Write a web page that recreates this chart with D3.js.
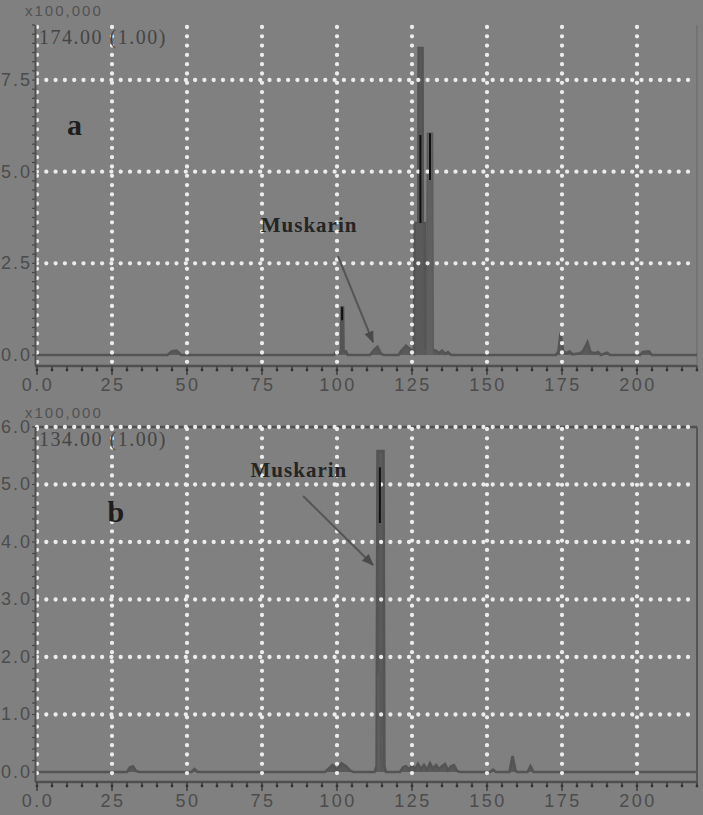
<!DOCTYPE html>
<html><head><meta charset="utf-8">
<script src="https://cdn.jsdelivr.net/npm/d3@7"></script>
<style>body{margin:0;background:#808080}svg{display:block}</style>
</head><body>
<svg id="c" width="703" height="815"></svg>
<script>
// ---- data ----
const xTicks = [0, 25, 50, 75, 100, 125, 150, 175, 200];
const xTickLabels = ["0.0", "25", "50", "75", "100", "125", "150", "175", "200"];
const yTicksA = [0, 2.5, 5, 7.5];
const yTickLabelsA = ["0.0", "2.5", "5.0", "7.5"];
const yTicksB = [0, 1, 2, 3, 4, 5, 6];
const yTickLabelsB = ["0.0", "1.0", "2.0", "3.0", "4.0", "5.0", "6.0"];
const scaleLabel = "x100,000";
const ionLabelA = "174.00 (1.00)";
const ionLabelB = "134.00 (1.00)";

// panel a : [retention time, intensity x100,000]
const traceA = [[0,0],[43.5,0],[45,0.1],[46.5,0.12],[48,0],
 [99,0],[99.8,0.1],[100.6,0.05],[101.3,0.1],[101.5,1.3],[102.0,1.3],[102.2,0.1],[103,0.1],[103.6,0],
 [111,0],[112.5,0.15],[113.5,0.22],[114.5,0.05],[115.5,0],
 [120.5,0],[121.5,0.12],[123,0.25],[124.5,0.15],[125.6,0.05],
 [125.9,3.6],[127.1,3.6],[127.2,8.37],[128.5,8.37],[128.6,3.6],[129.3,3.6],[129.4,0.2],[133,0.12],[134,0.05],[135,0.12],[136,0.03],[137,0.08],[138,0],
 [173,0],[173.8,0.1],[174.5,0.6],[175.4,0.1],[176.5,0.05],[177.5,0.1],[178.5,0.02],[181,0.05],[182,0.1],[183.5,0.35],[184.5,0.08],[186,0.05],[187,0.08],[188,0],[190,0.06],[191,0],
 [201,0],[202,0.08],[204,0.1],[205,0],[220,0]];
// second ion trace in panel a (lighter)
const traceA2 = [[129.4,0],[129.8,0.2],[130.1,6.05],[131.9,6.05],[132.1,0.1],[132.4,0]];
const overlayA = [[101.7,0.95],[101.7,1.3],[101.7,null],[127.8,3.6],[127.8,6.0],[127.8,null],[131.0,4.77],[131.0,6.05]];

// panel b
const traceB = [[0,0],[30,0],[31,0.08],[32,0.1],[33,0.02],[34,0],[51.5,0],[52.5,0.05],[53.5,0],
 [96,0],[97,0.05],[98.5,0.12],[100,0.04],[101.5,0.15],[103,0.1],[104.5,0.02],[105.5,0],
 [112.5,0],[113.2,0.1],[113.5,5.58],[115.5,5.58],[115.8,0.1],[116.3,0],
 [121,0],[122,0.08],[123,0.1],[124,0.04],[125,0.12],[126,0.05],[127,0.14],[128,0.05],[129,0.12],[130,0.04],[131,0.15],[132,0.06],[133,0.12],[134,0.05],[135,0.1],[136,0.14],[137,0.03],[138,0.1],[139,0.12],[140,0.02],[141,0],
 [151,0],[152,0.04],[153,0],[157.5,0],[158.5,0.28],[159.5,0.02],[160,0],[163.5,0],[164.5,0.1],[165.5,0],[220,0]];
const traceB2 = [[113.4,0],[113.5,1.72],[114.3,1.72],[114.4,0]];
const overlayB = [[114.3,4.33],[114.3,5.3]];

const annotA = {text: "Muskarin", tx: 90.7, ty: 3.35, ax0: 100.3, ay0: 2.7, ax1: 112, ay1: 0.35};
const annotB = {text: "Muskarin", tx: 87.3, ty: 5.13, ax0: 88.7, ay0: 4.8, ax1: 112, ay1: 3.6};

// ---- drawing ----
const svg = d3.select("#c");
const x = d3.scaleLinear().domain([0, 220]).range([37, 697]);

const panels = [
  {trace: traceA, trace2: traceA2, overlay: overlayA, yTicks: yTicksA, yLabels: yTickLabelsA, ion: ionLabelA,
   y: d3.scaleLinear().domain([-0.3, 9.0]).range([366, 25]), minor: 0.25, letter: "a", lx: 10, ly: 6.0,
   annot: annotA, border: false},
  {trace: traceB, trace2: traceB2, overlay: overlayB, yTicks: yTicksB, yLabels: yTickLabelsB, ion: ionLabelB,
   y: d3.scaleLinear().domain([-0.174, 6.0]).range([782, 427]), minor: 0.2, letter: "b", lx: 23.5, ly: 4.35,
   annot: annotB, border: true}
];

svg.append("defs").append("marker").attr("id","ah").attr("viewBox","0 0 10 10")
  .attr("refX",9).attr("refY",5).attr("markerWidth",6).attr("markerHeight",6).attr("orient","auto")
  .append("path").attr("d","M0,1 L10,5 L0,9 Z").attr("fill","#4a4a4a");

panels.forEach(p => {
  const g = svg.append("g");
  const y = p.y;
  const [yb, yt] = y.range();
  const xr = x.range()[1];

  if (p.border) {
    g.append("line").attr("x1", 36).attr("x2", xr).attr("y1", yt).attr("y2", yt)
      .attr("stroke", "#505050").attr("stroke-width", 2.5);
  }
  g.append("line").attr("x1", xr).attr("x2", xr).attr("y1", yt).attr("y2", yb)
    .attr("stroke", p.border ? "#555" : "#747474").attr("stroke-width", 2);

  const area = d3.area().x(d => x(d[0])).y0(y(0)).y1(d => y(d[1]));
  const line = d3.line().x(d => x(d[0])).y(d => y(d[1]));
  g.append("path").attr("d", area(p.trace)).attr("fill", "#5a5a5a");
  g.append("path").attr("d", line(p.trace)).attr("fill", "none")
    .attr("stroke", "#545454").attr("stroke-width", 2.6);
  g.append("path").attr("d", area(p.trace2)).attr("fill", "#606060");
  g.append("path").attr("d", line(p.trace2)).attr("fill", "none")
    .attr("stroke", "#595959").attr("stroke-width", 1.2);

  const dot = sel => sel.attr("stroke", "#ececec").attr("stroke-width", 4.3)
    .attr("stroke-linecap", "round").attr("stroke-dasharray", "0 9.3");
  g.selectAll(".vg").data(xTicks).join("line")
    .attr("x1", d => x(d)).attr("x2", d => x(d)).attr("y1", yt + 2).attr("y2", yb - 4).call(dot);
  g.selectAll(".hg").data(p.yTicks.filter(v => v > 0)).join("line")
    .attr("x1", x(0)).attr("x2", xr - 2).attr("y1", d => y(d)).attr("y2", d => y(d)).call(dot);

  const lo = d3.line().defined(d => d[1] != null).x(d => x(d[0])).y(d => y(d[1]));
  g.append("path").attr("d", lo(p.overlay)).attr("fill", "none")
    .attr("stroke", "#111").attr("stroke-width", 2);

  g.append("line").attr("x1", 35.5).attr("x2", 35.5).attr("y1", yt).attr("y2", yb)
    .attr("stroke", "#505050").attr("stroke-width", 2);
  g.append("line").attr("x1", 35).attr("x2", xr).attr("y1", yb).attr("y2", yb)
    .attr("stroke", "#505050").attr("stroke-width", 2.5);

  const minorX = d3.range(0, 221, 5);
  g.selectAll(".xt").data(minorX).join("line")
    .attr("x1", d => x(d)).attr("x2", d => x(d)).attr("y1", yb)
    .attr("y2", d => yb + (d % 25 === 0 ? 9 : 5))
    .attr("stroke", "#3f3f3f").attr("stroke-width", 1.5);
  g.selectAll(".xtd").data(minorX).join("circle")
    .attr("cx", d => x(d)).attr("cy", yb + 4).attr("r", 1.4).attr("fill", "#333");
  g.selectAll(".xl").data(xTicks).join("text")
    .attr("x", d => x(d) + 1).attr("y", yb + 25)
    .attr("text-anchor", "middle").attr("font-family", "Liberation Sans, sans-serif")
    .attr("font-size", 18).attr("letter-spacing", 2.5).attr("fill", "#4c4c4c")
    .text((d, i) => xTickLabels[i]);

  const d1 = y.domain()[1];
  const minorY = d3.range(0, d1 + 1e-6, p.minor);
  g.selectAll(".ym").data(minorY).join("line")
    .attr("x1", 35).attr("x2", 32).attr("y1", d => y(d)).attr("y2", d => y(d))
    .attr("stroke", "#454545").attr("stroke-width", 1.2);
  g.selectAll(".yl").data(p.yTicks).join("text")
    .attr("x", 32).attr("y", d => y(d) + 6)
    .attr("text-anchor", "end").attr("font-family", "Liberation Sans, sans-serif")
    .attr("font-size", 18).attr("letter-spacing", 2).attr("fill", "#4c4c4c")
    .text((d, i) => p.yLabels[i]);

  g.append("text").attr("x", 25).attr("y", yt - 9).attr("font-family", "Liberation Sans, sans-serif")
    .attr("font-size", 15).attr("letter-spacing", 2).attr("fill", "#525252").text(scaleLabel);
  g.append("text").attr("x", 39).attr("y", yt + 19).attr("font-family", "Liberation Serif, serif")
    .attr("font-size", 20).attr("letter-spacing", 1.5).attr("fill", "#454545").text(p.ion);

  g.append("text").attr("x", x(p.lx)).attr("y", y(p.ly)).attr("font-family", "Liberation Serif, serif")
    .attr("font-weight", "bold").attr("font-size", 30).attr("fill", "#1e1e1e").text(p.letter);

  const a = p.annot;
  g.append("text").attr("x", x(a.tx)).attr("y", y(a.ty)).attr("text-anchor", "middle")
    .attr("font-family", "Liberation Serif, serif").attr("font-weight", "bold")
    .attr("font-size", 21).attr("letter-spacing", 1).attr("fill", "#252525").text(a.text);
  g.append("line").attr("x1", x(a.ax0)).attr("y1", y(a.ay0)).attr("x2", x(a.ax1)).attr("y2", y(a.ay1))
    .attr("stroke", "#555").attr("stroke-width", 2).attr("marker-end", "url(#ah)");
});
</script>
</body></html>
